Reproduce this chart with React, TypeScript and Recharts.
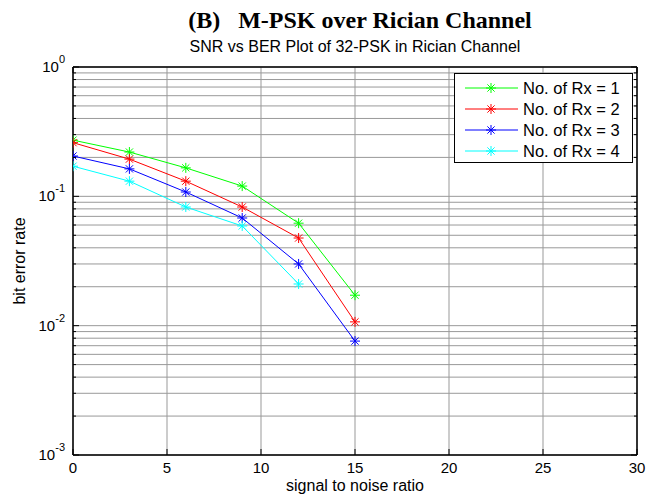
import React from "react";
import {
  LineChart,
  Line,
  XAxis,
  YAxis,
  CartesianGrid,
} from "recharts";

// SNR points (dB) and BER for each receiver count
const snrDb = [0, 3, 6, 9, 12, 15];
const berRx1 = [0.272, 0.22, 0.166, 0.12, 0.062, 0.0172];
const berRx2 = [0.26, 0.194, 0.131, 0.0827, 0.0476, 0.0107];
const berRx3 = [0.205, 0.163, 0.108, 0.068, 0.03, 0.0076];
const berRx4 = [0.171, 0.131, 0.0827, 0.059, 0.021];

const seriesNames = ["No. of Rx = 1", "No. of Rx = 2", "No. of Rx = 3", "No. of Rx = 4"];
const seriesKeys = ["rx1", "rx2", "rx3", "rx4"];
const seriesColors = ["#00ff00", "#ff0000", "#0000ff", "#00ffff"];
const seriesValues = [berRx1, berRx2, berRx3, berRx4];

const xTicks = [0, 5, 10, 15, 20, 25, 30];
const decades = [-3, -2, -1, 0];

// log-axis ticks: every 1..9 multiple of each decade
const yTicks: number[] = [];
decades.forEach((d) => {
  if (d === 0) {
    yTicks.push(1);
    return;
  }
  for (let m = 1; m <= 9; m++) yTicks.push(+(m * Math.pow(10, d)).toPrecision(3));
});

const data = snrDb.map((x, i) => {
  const row: Record<string, number | undefined> = { snr: x };
  seriesKeys.forEach((k, s) => {
    row[k] = seriesValues[s][i];
  });
  return row;
});

const FONT = "'Liberation Sans', Arial, sans-serif";

const isDecade = (v: number) => {
  const e = Math.round(Math.log10(v));
  return Math.abs(v / Math.pow(10, e) - 1) < 1e-6;
};

const LeftTick = (props: any) => {
  const { x, y, payload } = props;
  const v = payload.value as number;
  const major = isDecade(v);
  const exp = Math.round(Math.log10(v));
  return (
    <g>
      <line x1={x} x2={x + (major ? 6 : 3)} y1={y} y2={y} stroke="#000" strokeWidth={1} />
      {major && (
        <text x={x - 8} y={y + 5} textAnchor="end" fontFamily={FONT} fontSize={15} fill="#000">
          10
          <tspan dy={-9} fontSize={11}>{exp}</tspan>
        </text>
      )}
    </g>
  );
};

const RightTick = (props: any) => {
  const { x, y, payload } = props;
  const major = isDecade(payload.value as number);
  return <line x1={x} x2={x - (major ? 6 : 3)} y1={y} y2={y} stroke="#000" strokeWidth={1} />;
};

const BottomTick = (props: any) => {
  const { x, y, payload } = props;
  return (
    <g>
      <line x1={x} x2={x} y1={y} y2={y - 6} stroke="#000" strokeWidth={1} />
      <text x={x} y={y + 18} textAnchor="middle" fontFamily={FONT} fontSize={15} fill="#000">
        {payload.value}
      </text>
    </g>
  );
};

const TopTick = (props: any) => {
  const { x, y } = props;
  return <line x1={x} x2={x} y1={y} y2={y + 6} stroke="#000" strokeWidth={1} />;
};

// MATLAB-style '*' marker
const Asterisk = (props: any) => {
  const { cx, cy, stroke } = props;
  if (cx == null || cy == null || props.value == null) return <g />;
  const r = 5;
  const d = r * 0.72;
  return (
    <g stroke={stroke} strokeWidth={1}>
      <line x1={cx - r} x2={cx + r} y1={cy} y2={cy} />
      <line x1={cx} x2={cx} y1={cy - r} y2={cy + r} />
      <line x1={cx - d} x2={cx + d} y1={cy - d} y2={cy + d} />
      <line x1={cx - d} x2={cx + d} y1={cy + d} y2={cy - d} />
    </g>
  );
};

const LegendSwatch = ({ color }: { color: string }) => (
  <svg width={53} height={12} style={{ display: "block" }}>
    <line x1={0} x2={53} y1={6} y2={6} stroke={color} strokeWidth={1} />
    <Asterisk cx={26} cy={6} stroke={color} value={1} />
  </svg>
);

export default function App() {
  return (
    <div style={{ position: "absolute", left: 0, top: 0, width: 659, height: 499, background: "#fff" }}>
      <div
        style={{
          position: "absolute",
          left: 0,
          width: 720,
          top: 6,
          textAlign: "center",
          fontFamily: "'Liberation Serif', 'Times New Roman', serif",
          fontWeight: "bold",
          fontSize: 24,
          lineHeight: "28px",
          whiteSpace: "pre",
          color: "#000",
        }}
      >
        {"(B)   M-PSK over Rician Channel"}
      </div>
      <div
        style={{
          position: "absolute",
          left: 73,
          width: 564,
          top: 38,
          textAlign: "center",
          fontFamily: FONT,
          fontSize: 16,
          lineHeight: "18px",
          color: "#000",
        }}
      >
        SNR vs BER Plot of 32-PSK in Rician Channel
      </div>
      <LineChart width={659} height={499} data={data} margin={{ top: 0, right: 0, bottom: 0, left: 0 }}>
        <CartesianGrid stroke="#999" strokeWidth={1} />
        <XAxis
          dataKey="snr"
          type="number"
          domain={[0, 30]}
          ticks={xTicks}
          interval={0}
          height={44}
          tickSize={0}
          tickMargin={0}
          tickLine={false}
          axisLine={{ stroke: "#000", strokeWidth: 1.5 }}
          tick={<BottomTick />}
          allowDataOverflow
        />
        <XAxis
          xAxisId="top"
          orientation="top"
          type="number"
          domain={[0, 30]}
          ticks={xTicks}
          interval={0}
          height={67}
          tickSize={0}
          tickMargin={0}
          tickLine={false}
          axisLine={{ stroke: "#000", strokeWidth: 1.5 }}
          tick={<TopTick />}
          allowDataOverflow
        />
        <YAxis
          scale="log"
          type="number"
          domain={[0.001, 1]}
          ticks={yTicks}
          interval={0}
          width={73}
          tickSize={0}
          tickMargin={0}
          tickLine={false}
          axisLine={{ stroke: "#000", strokeWidth: 1.5 }}
          tick={<LeftTick />}
          allowDataOverflow
        />
        <YAxis
          yAxisId="right"
          orientation="right"
          scale="log"
          type="number"
          domain={[0.001, 1]}
          ticks={yTicks}
          interval={0}
          width={22}
          tickSize={0}
          tickMargin={0}
          tickLine={false}
          axisLine={{ stroke: "#000", strokeWidth: 1.5 }}
          tick={<RightTick />}
          allowDataOverflow
        />
        {seriesKeys.map((k, i) => (
          <Line
            key={k}
            dataKey={k}
            name={seriesNames[i]}
            type="linear"
            stroke={seriesColors[i]}
            strokeWidth={1}
            dot={<Asterisk />}
            activeDot={false}
            isAnimationActive={false}
          />
        ))}
      </LineChart>
      <div
        style={{
          position: "absolute",
          left: 0,
          top: 477,
          width: 710,
          textAlign: "center",
          fontFamily: FONT,
          fontSize: 16,
          color: "#000",
        }}
      >
        signal to noise ratio
      </div>
      <div
        style={{
          position: "absolute",
          left: 20,
          top: 261,
          transform: "translate(-50%, -50%) rotate(-90deg)",
          fontFamily: FONT,
          fontSize: 16,
          whiteSpace: "nowrap",
          color: "#000",
        }}
      >
        bit error rate
      </div>
      <div
        style={{
          position: "absolute",
          left: 454,
          top: 73,
          width: 177,
          height: 88,
          border: "1px solid #000",
          background: "#fff",
          boxSizing: "content-box",
        }}
      >
        {seriesNames.map((n, i) => (
          <div
            key={n}
            style={{
              position: "absolute",
              left: 10,
              top: 7 + i * 21,
              display: "flex",
              alignItems: "center",
              height: 14,
            }}
          >
            <LegendSwatch color={seriesColors[i]} />
            <span
              style={{
                marginLeft: 5,
                fontFamily: FONT,
                fontSize: 16.5,
                lineHeight: "14px",
                whiteSpace: "nowrap",
                color: "#000",
              }}
            >
              {n}
            </span>
          </div>
        ))}
      </div>
    </div>
  );
}
